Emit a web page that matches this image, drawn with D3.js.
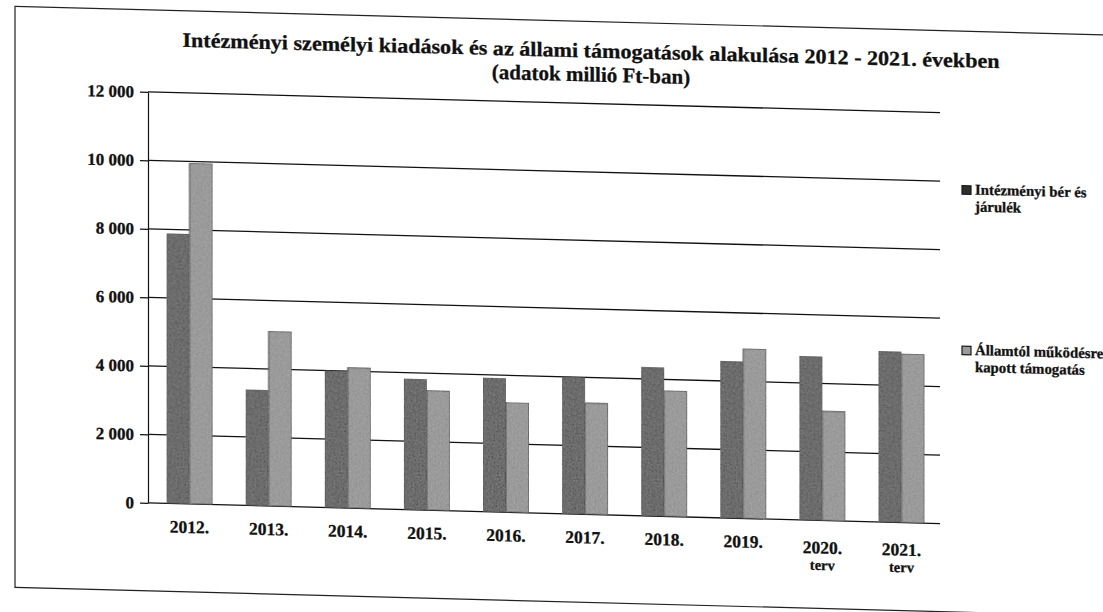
<!DOCTYPE html>
<html lang="hu">
<head>
<meta charset="utf-8">
<title>Intézményi személyi kiadások és az állami támogatások alakulása</title>
<script src="https://cdn.jsdelivr.net/npm/d3@7"></script>
<style>
  html, body { margin: 0; padding: 0; background: #fff; }
  svg { display: block; }
  svg text { font-family: "Liberation Serif", "DejaVu Serif", serif; font-weight: 700; fill: #111; stroke: #111; stroke-width: 0.3px; }
</style>
</head>
<body>
<svg id="chart" width="1103" height="612"></svg>
<script>
// Years on the category axis, with the "terv" (plan) note under the last two
const categories = ["2012.", "2013.", "2014.", "2015.", "2016.", "2017.", "2018.", "2019.", "2020.", "2021."];
const categoryNotes = ["", "", "", "", "", "", "", "", "terv", "terv"];

// Series (million Ft)
const seriesNames = ["Intézményi bér és járulék", "Államtól működésre kapott támogatás"];
const legendLines = [["Intézményi bér és", "járulék"], ["Államtól működésre", "kapott támogatás"]];
const wageCosts    = [7880, 3380, 3990, 3820, 3900, 3990, 4330, 4570, 4780, 4980];
const stateSupport = [9950, 5100, 4100, 3490, 3210, 3250, 3670, 4960, 3190, 4930];

// Value axis ticks
const yTicks = [0, 2000, 4000, 6000, 8000, 10000, 12000];

const titleLines = [
  "Intézményi személyi kiadások és az állami támogatások alakulása 2012 - 2021. években",
  "(adatok millió Ft-ban)"
];

const serif = "'Liberation Serif', 'DejaVu Serif', serif";
const svg = d3.select("#chart");

// defs: grain for the bar fills
const defs = svg.append("defs");
const grain = defs.append("filter").attr("id", "grain")
  .attr("x", 0).attr("y", 0).attr("width", "100%").attr("height", "100%");
grain.append("feTurbulence").attr("type", "fractalNoise").attr("baseFrequency", 0.55)
  .attr("numOctaves", 2).attr("seed", 7).attr("result", "noise");
grain.append("feColorMatrix").attr("in", "noise").attr("type", "matrix")
  .attr("values", "0.6 0.6 0 0 -0.1  0.6 0.6 0 0 -0.1  0.6 0.6 0 0 -0.1  0 0 0 0 0.22")
  .attr("result", "tint");
grain.append("feComposite").attr("in", "tint").attr("in2", "SourceGraphic")
  .attr("operator", "in").attr("result", "tintIn");
const merge = grain.append("feMerge");
merge.append("feMergeNode").attr("in", "SourceGraphic");
merge.append("feMergeNode").attr("in", "tintIn");

// The printed page sits slightly slanted
const root = svg.append("g").attr("transform", "skewY(1.5)")
  .attr("font-family", serif).attr("font-weight", "bold");

// frame around the chart
root.append("rect")
  .attr("x", 15).attr("y", 6).attr("width", 1140).attr("height", 581)
  .attr("fill", "none").attr("stroke", "#222").attr("stroke-width", 1.2);

// title
const titleX = 591;
root.append("text").attr("x", titleX).attr("y", 42)
  .attr("text-anchor", "middle").style("font-size", "20.5px")
  .attr("textLength", 817).attr("lengthAdjust", "spacingAndGlyphs")
  .text(titleLines[0]);
root.append("text").attr("x", titleX).attr("y", 66)
  .attr("text-anchor", "middle").style("font-size", "21px")
  .text(titleLines[1]);

// scales
const plotLeft = 148, plotRight = 940, plotTop = 88, plotBottom = 499;
const y = d3.scaleLinear().domain([0, 12000]).range([plotBottom, plotTop]);
const x0 = d3.scaleBand().domain(categories).range([plotLeft + 2, plotRight + 1])
  .paddingInner(0.42).paddingOuter(0.21);
const x1 = d3.scaleBand().domain([0, 1]).range([0, x0.bandwidth()]).padding(0);

// horizontal gridlines (0 is the category baseline)
root.append("g").selectAll("line").data(yTicks).join("line")
  .attr("x1", plotLeft).attr("x2", plotRight)
  .attr("y1", d => y(d)).attr("y2", d => y(d))
  .attr("stroke", "#111").attr("stroke-width", 1.3);

// value axis
const fmt = d => d3.format(",")(d).replace(/,/g, " ");
const yAxis = root.append("g").attr("transform", `translate(${plotLeft},0)`)
  .call(d3.axisLeft(y).tickValues(yTicks).tickFormat(fmt).tickSize(8).tickSizeOuter(0).tickPadding(6));
yAxis.attr("font-family", serif).attr("font-size", 17);
yAxis.select(".domain").attr("stroke", "#111").attr("stroke-width", 1.2);
yAxis.selectAll(".tick line").attr("stroke", "#111").attr("stroke-width", 1.2);
yAxis.selectAll(".tick text").attr("fill", "#111").style("font-size", "17px");

// bars
const seriesData = [wageCosts, stateSupport];
const fills = ["#3f3f3f", "#909090"];
const barGroups = root.append("g").selectAll("g").data(categories).join("g")
  .attr("transform", d => `translate(${x0(d)},0)`);
barGroups.selectAll("rect")
  .data((d, i) => seriesData.map((s, k) => ({ k, v: s[i] })))
  .join("rect")
  .attr("x", d => x1(d.k))
  .attr("width", x1.bandwidth())
  .attr("y", d => y(d.v))
  .attr("height", d => y(0) - y(d.v))
  .attr("fill", d => fills[d.k])
  .attr("filter", "url(#grain)")
  .attr("stroke", "#1a1a1a").attr("stroke-width", 1);

// category labels
const labels = root.append("g").selectAll("text").data(categories).join("text")
  .attr("text-anchor", "middle")
  .attr("x", d => x0(d) + x0.bandwidth() / 2)
  .attr("y", (d, i) => categoryNotes[i] ? 532 : 528)
  .style("font-size", "17.5px");
labels.append("tspan").text(d => d);
labels.filter((d, i) => categoryNotes[i])
  .append("tspan")
  .attr("x", d => x0(d) + x0.bandwidth() / 2)
  .attr("dy", 16.5)
  .style("font-size", "14.5px")
  .text(d => categoryNotes[categories.indexOf(d)]);

// legend
const legendTops = [169, 329.5];
const legend = root.append("g").selectAll("g").data(seriesNames).join("g");
legend.append("rect")
  .attr("x", 962).attr("y", (d, i) => legendTops[i] - 8.5)
  .attr("width", 9).attr("height", 8.5)
  .attr("fill", (d, i) => i === 0 ? "#2e2e2e" : "#9a9a9a")
  .attr("stroke", "#1a1a1a").attr("stroke-width", 1.2);
legend.append("text")
  .attr("x", 975).attr("y", (d, i) => legendTops[i])
  .style("font-size", "14.8px")
  .selectAll("tspan").data((d, i) => legendLines[i]).join("tspan")
  .attr("x", 975).attr("dy", (d, j) => j === 0 ? 0 : 17)
  .text(d => d);
</script>
</body>
</html>
